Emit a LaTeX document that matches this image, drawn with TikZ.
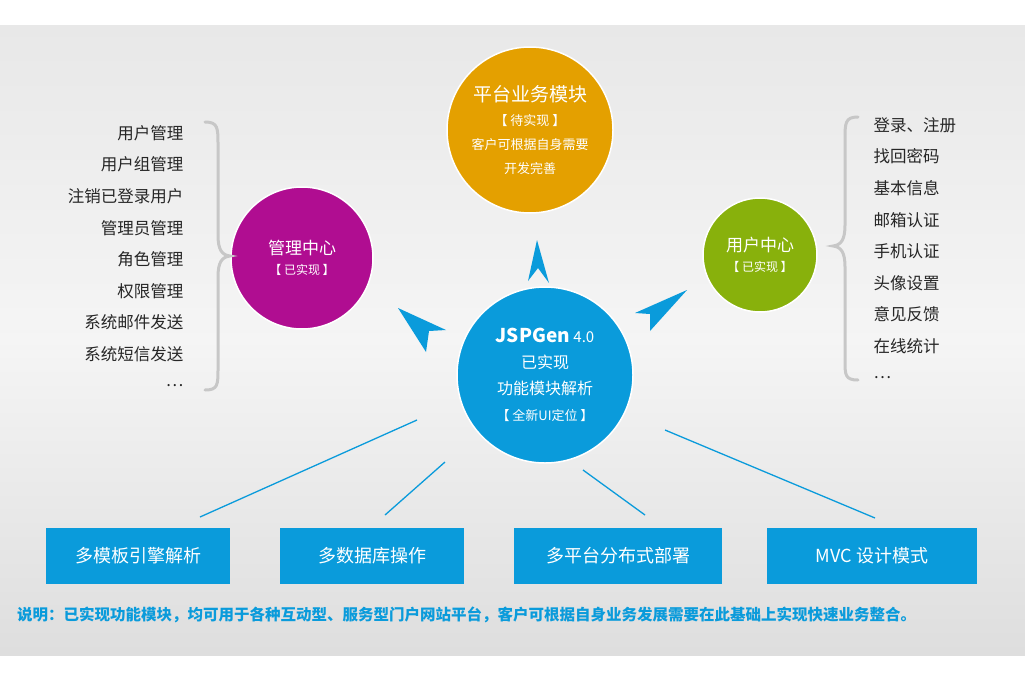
\documentclass[tikz,border=0pt]{standalone}
\usepackage{fontspec}
\setmainfont{Noto Sans CJK SC}
\begin{document}
\begin{tikzpicture}[x=1pt,y=-1pt,
  circ/.style={circle,draw=white,line width=1.5pt,inner sep=0pt,text=white,align=center},
  box/.style={fill=boxc,minimum width=184pt,minimum height=56pt,text=white,font=\fontsize{18}{20}\selectfont},
  lst/.style={font=\fontsize{16.5}{18}\selectfont,text=black!85},
  ln/.style={draw=boxc,line width=1.3pt},
  brace/.style={draw=black!22,line width=3pt,line cap=round},
  nav/.style={fill=boxc}]
\definecolor{boxc}{HTML}{0A9BDB}
\definecolor{purp}{HTML}{B00D91}
\definecolor{oran}{HTML}{E4A000}
\definecolor{gree}{HTML}{88B10C}
\useasboundingbox (0,0) rectangle (1025,683);
\fill[white] (0,0) rectangle (1025,683);
\shade[top color=black!9,bottom color=black!13,middle color=black!4] (0,25) rectangle (1025,655);
% circles
\node[circ,fill=purp,minimum size=142pt,font=\fontsize{12}{16}\selectfont] (m) at (302,258) {{\fontsize{17}{20}\selectfont 管理中心}\\[4pt] 【 已实现 】};
\node[circ,fill=oran,minimum size=166pt,font=\fontsize{13}{24}\selectfont] (p) at (530,130) {{\fontsize{19}{22}\selectfont 平台业务模块}\\ 【 待实现 】\\ 客户可根据自身需要\\ 开发完善};
\node[circ,fill=gree,minimum size=114pt,font=\fontsize{12}{16}\selectfont] (u) at (760,255) {{\fontsize{17}{20}\selectfont 用户中心}\\[4pt] 【 已实现 】};
\node[circ,fill=boxc,minimum size=176pt,font=\fontsize{16}{26}\selectfont] (c) at (545,375) {{\fontsize{19}{22}\selectfont\bfseries\itshape JSPGen} {\fontsize{15}{17}\selectfont\itshape 4.0}\\ 已实现\\ 功能模块解析\\ {\fontsize{13}{16}\selectfont 【 全新UI定位 】}};
% navigation arrows
\fill[nav] (537,240) -- (549,283) -- (538,268) -- (528,281) -- cycle;
\fill[nav] (398,308) -- (446,330) -- (429,331) -- (426,352) -- cycle;
\fill[nav] (687,290) -- (650,331) -- (650,314) -- (635,313) -- cycle;
% boxes
\node[box] (b1) at (138,556) {多模板引擎解析};
\node[box] (b2) at (372,556) {多数据库操作};
\node[box,minimum width=208pt] (b3) at (618,556) {多平台分布式部署};
\node[box,minimum width=210pt] (b4) at (872,556) {MVC 设计模式};
\coordinate (l1) at (417,420); \coordinate (l2) at (445,462);
\coordinate (l3) at (583,470); \coordinate (l4) at (665,430);
\coordinate (e1) at (200,517); \coordinate (e2) at (385,515);
\coordinate (e3) at (645,515); \coordinate (e4) at (875,518);
\draw[ln] (l1) -- (e1); \draw[ln] (l2) -- (e2); \draw[ln] (l3) -- (e3); \draw[ln] (l4) -- (e4);
% left list
\foreach \t [count=\i] in {用户管理,用户组管理,注销已登录用户,管理员管理,角色管理,权限管理,系统邮件发送,系统短信发送,…}
  \node[lst,anchor=east] (L\i) at (187,{133+31.6*(\i-1)}) {\t};
\draw[brace] (205,122) .. controls (218,122) and (218,128) .. (218,145) -- (218,235) .. controls (218,250) and (222,255) .. (230,256) .. controls (222,257) and (218,262) .. (218,277) -- (218,368) .. controls (218,385) and (218,390) .. (205,390);
% right list
\foreach \t [count=\i] in {登录、注册,找回密码,基本信息,邮箱认证,手机认证,头像设置,意见反馈,在线统计,…}
  \node[lst,anchor=west] (R\i) at (870,{125+31.6*(\i-1)}) {\t};
\draw[brace] (858,117) .. controls (845,117) and (845,123) .. (845,140) -- (845,225) .. controls (845,240) and (841,245) .. (833,246) .. controls (841,247) and (845,252) .. (845,267) -- (845,360) .. controls (845,375) and (845,380) .. (858,380);
\node[anchor=west,text=boxc,font=\fontsize{15.5}{17}\selectfont\bfseries,inner sep=0pt] (note) at (17,615) {说明：已实现功能模块，均可用于各种互动型、服务型门户网站平台，客户可根据自身业务发展需要在此基础上实现快速业务整合。};
\end{tikzpicture}
\end{document}
